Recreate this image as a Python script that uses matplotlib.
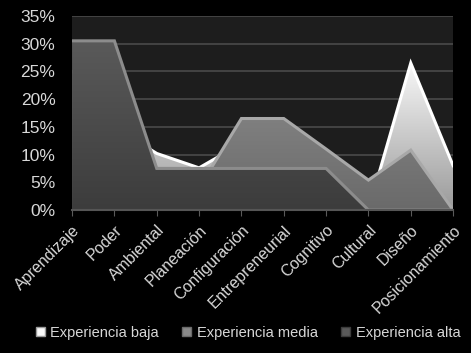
import numpy as np
import matplotlib.pyplot as plt
import matplotlib.transforms as mtransforms
from matplotlib.patches import Polygon, Patch

plt.rcParams['font.family'] = ['Liberation Sans', 'DejaVu Sans']

categorias = ['Aprendizaje', 'Poder', 'Ambiental', 'Planeación', 'Configuración',
              'Entrepreneurial', 'Cognitivo', 'Cultural', 'Diseño', 'Posicionamiento']
exp_baja = [20, 15, 10.2, 7.6, 12, 12, 6, 0, 26.5, 8]
exp_media = [25, 20, 6, 4, 16.5, 16.5, 11, 5.4, 10.8, 0]
exp_alta = [30.5, 30.5, 7.5, 7.5, 7.5, 7.5, 7.5, 0, 0, 0]
series = [
    ('Experiencia baja', exp_baja, '#f8f8f8', '#9a9a9a', '#ffffff'),
    ('Experiencia media', exp_media, '#8a8a8a', '#6a6a6a', '#a8a8a8'),
    ('Experiencia alta', exp_alta, '#5a5a5a', '#3c3c3c', '#8c8c8c'),
]

fig = plt.figure(figsize=(4.71, 3.53), dpi=100, facecolor='black')
ax = fig.add_axes([0.153, 0.405, 0.809, 0.55])
ax.set_facecolor('#1d1d1d')

x = np.arange(len(categorias))
ax.set_xlim(0, len(categorias) - 1)
ax.set_ylim(0, 35)

for y in range(5, 40, 5):
    ax.axhline(y, color='#4a4a4a', lw=1.2, zorder=1)


def gradient_area(ax, xs, ys, c_top, c_bot, z):
    verts = [(xs[0], 0)] + list(zip(xs, ys)) + [(xs[-1], 0)]
    poly = Polygon(verts, closed=True, facecolor='none', edgecolor='none')
    ax.add_patch(poly)
    top = np.array(plt.matplotlib.colors.to_rgb(c_top))
    bot = np.array(plt.matplotlib.colors.to_rgb(c_bot))
    t = np.linspace(0, 1, 256)[:, None]
    grad = bot + (top - bot) * t
    img = np.repeat(grad[:, None, :], 2, axis=1)
    im = ax.imshow(img, extent=[xs[0], xs[-1], 0, max(ys)], origin='lower',
                   aspect='auto', zorder=z, interpolation='bilinear')
    im.set_clip_path(poly)
    return poly


for i, (name, vals, c_top, c_bot, c_edge) in enumerate(series):
    z = 2 + i * 2
    gradient_area(ax, x, vals, c_top, c_bot, z)
    ax.plot(x, vals, color=c_edge, lw=2.2, zorder=z + 1, solid_joinstyle='miter')

ax.set_xticks(x)
ax.set_xticklabels(categorias, rotation=45, ha='right', rotation_mode='anchor',
                   color='#d8d8d8', fontsize=11.5)
ax.set_yticks(range(0, 40, 5))
ax.set_yticklabels([f'{v}%' for v in range(0, 40, 5)], color='#d8d8d8', fontsize=12.5)
ax.tick_params(axis='both', colors='#5a5a5a', length=4)
ax.tick_params(axis='x', labelcolor='#d8d8d8', pad=5)
ax.tick_params(axis='y', labelcolor='#d8d8d8', length=0, pad=12)
for s in ax.spines.values():
    s.set_visible(False)
ax.axhline(0, color='#555555', lw=1.5, zorder=10, clip_on=False)

handles = [Patch(facecolor=c_top, edgecolor=c_bot, label=name)
           for name, vals, c_top, c_bot, c_edge in series]
fig.legend(handles=handles, loc='lower center', ncol=3, frameon=False,
           bbox_to_anchor=(0.527, 0.0), fontsize=10.5, labelcolor='#d8d8d8',
           handlelength=0.6, handleheight=0.6, handletextpad=0.4, columnspacing=1.6)

fig.savefig('out.png', dpi=100, facecolor='black')
